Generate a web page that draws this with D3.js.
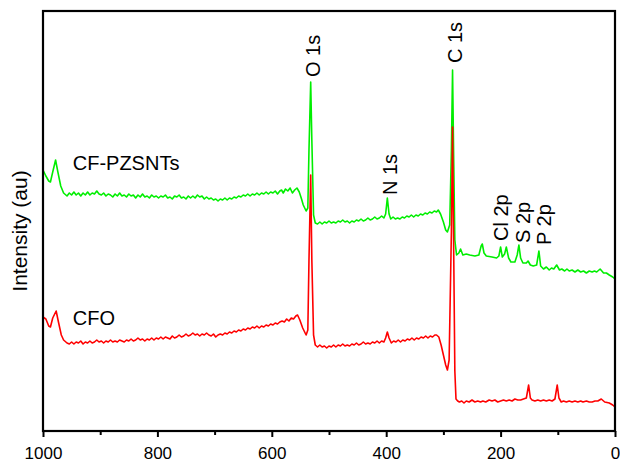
<!DOCTYPE html>
<html>
<head>
<meta charset="utf-8">
<script src="https://cdn.jsdelivr.net/npm/d3@7"></script>
<style>
  body { margin: 0; background: #fff; }
  text { font-family: Arial, "Liberation Sans", sans-serif; fill: #000; }
</style>
</head>
<body>
<div id="chart"></div>
<script>
// [binding energy (eV), intensity (a.u.)]
var spectrumCFPZSNTs = [
  [1000,261],[995,255],[990,250],[987,249],[983,259],[978,271],[974,259],[969,245],[964,238],
  [958,235],[954,238],[950,236],[946,239],[942,236],[938,238],[934,235],[930,238],[926,236],[922,239],
  [918,236],[914,238],[910,237],[906,240],[902,237],[898,236],[894,238],[890,235],[886,237],[882,236],
  [878,234],[874,237],[870,235],[866,238],[862,235],[858,236],[854,234],[850,237],[846,235],[842,236],
  [838,233],[834,236],[830,234],[826,237],[822,234],[818,235],[814,233],[810,236],[806,234],[802,235],
  [798,233],[794,235],[790,234],[786,236],[782,233],[778,234],[774,232],[770,235],[766,234],[762,236],
  [758,233],[754,234],[750,232],[746,235],[742,233],[738,235],[734,233],[730,236],[726,234],[722,235],
  [718,232],[714,234],[710,232],[706,233],[702,231],[698,232],[694,230],[690,232],[686,231],[682,233],
  [678,231],[674,233],[670,232],[666,234],[662,233],[658,235],[654,234],[650,236],[646,235],[642,237],
  [638,235],[634,237],[630,236],[626,238],[622,236],[618,238],[614,237],[610,239],[606,237],[602,239],
  [598,238],[594,240],[590,237],[586,240],[583,241],[580,238],[576,242],[572,240],[568,243],[564,238],
  [560,241],[556,243],[552,239],[548,232],[545,226],[540,220],[537,223],[535,281],[532,349],[530,291],
  [527,216],[524,208],[520,207],[516,209],[512,207],[508,209],[504,208],[500,210],[496,208],[492,209],
  [488,208],[484,210],[480,209],[476,211],[472,209],[468,210],[464,208],[460,210],[456,209],[452,211],
  [448,210],[444,212],[440,210],[436,211],[432,213],[428,211],[424,212],[420,214],[416,212],[412,213],
  [408,215],[404,213],[401,217],[398,233],[395,217],[392,212],[388,214],[384,212],[380,213],[376,212],
  [372,214],[368,213],[364,215],[360,214],[356,216],[352,214],[348,216],[344,215],[340,217],[336,216],
  [332,218],[328,217],[324,219],[320,218],[316,220],[312,219],[309,221],[305,217],[300,209],[296,201],
  [293,199],[289,206],[286,281],[284,361],[282,271],[280,191],[277,176],[273,178],[270,182],[266,176],
  [260,177],[254,176],[245,175],[238,176],[234,185],[232,187],[229,178],[225,175],[215,174],[207,173],
  [203,175],[200,184],[197,174],[193,177],[190,184],[186,173],[182,169],[175,169],[171,176],[168,186],
  [165,173],[161,168],[155,168],[152,170],[148,166],[143,165],[137,166],[133,180],[130,165],[125,162],
  [120,164],[115,161],[111,163],[107,162],[102,166],[97,161],[93,162],[88,160],[84,162],[80,160],
  [75,161],[70,159],[65,161],[60,159],[55,160],[50,158],[45,160],[40,159],[36,160],[32,159],
  [26,162],[20,158],[15,158],[10,156],[4,154],[0,152]
];

var spectrumCFO = [
  [1000,114],[995,112],[990,105],[987,104],[983,113],[977,120],[973,109],[968,96],[964,91],
  [958,88],[954,87],[950,89],[946,87],[942,89],[938,88],[934,90],[930,87],[926,89],[922,88],
  [918,90],[914,88],[910,89],[906,91],[902,89],[898,90],[894,88],[890,90],[886,89],[882,91],
  [878,89],[874,90],[870,89],[866,91],[862,90],[858,89],[854,91],[850,90],[846,92],[842,90],
  [838,91],[834,93],[830,91],[826,92],[822,90],[818,92],[814,91],[810,93],[806,91],[802,93],
  [798,92],[794,94],[790,92],[786,94],[782,93],[778,92],[774,95],[770,93],[766,94],[762,96],
  [758,94],[754,95],[750,97],[746,95],[742,96],[738,98],[734,96],[730,97],[726,95],[722,97],
  [718,96],[714,98],[710,96],[706,95],[702,97],[698,94],[694,96],[690,97],[686,96],[682,98],
  [678,97],[674,99],[670,98],[666,100],[662,99],[658,101],[654,100],[650,102],[646,101],[642,103],
  [638,102],[634,104],[630,103],[626,105],[622,103],[618,105],[614,104],[610,106],[606,105],[602,107],
  [598,106],[594,108],[590,107],[586,109],[582,110],[578,109],[574,112],[570,110],[566,113],[562,112],
  [558,115],[555,116],[551,111],[546,103],[540,96],[537,101],[535,171],[532,256],[530,171],[527,96],
  [524,86],[520,84],[516,86],[512,84],[508,85],[504,83],[500,85],[496,84],[492,86],[488,84],
  [484,86],[480,85],[476,87],[472,85],[468,86],[464,85],[460,87],[456,86],[452,88],[448,86],
  [444,87],[440,89],[436,87],[432,88],[428,87],[424,89],[420,88],[416,90],[412,88],[408,90],
  [404,89],[401,93],[398,99],[395,93],[391,88],[387,90],[383,89],[379,91],[375,89],[371,91],
  [367,90],[363,92],[359,91],[355,93],[351,91],[347,93],[343,92],[339,94],[335,93],[331,95],
  [327,93],[323,95],[319,94],[315,96],[312,96],[308,94],[304,86],[300,76],[296,66],[293,61],
  [290,71],[286,200],[284,304],[282,180],[280,60],[278,32],[275,30],[272,29],[268,30],[264,28],
  [260,30],[255,29],[250,31],[245,29],[240,30],[235,29],[231,30],[226,29],[220,31],[215,30],
  [210,31],[205,29],[200,30],[195,31],[190,30],[185,31],[180,30],[175,32],[170,31],[165,31],
  [160,32],[155,33],[151,46],[148,33],[145,31],[140,30],[135,31],[130,30],[125,31],[120,30],
  [115,31],[110,30],[105,32],[101,46],[98,33],[94,29],[90,30],[85,29],[80,30],[75,29],
  [70,30],[65,29],[60,30],[56,29],[50,30],[45,29],[40,29],[35,30],[30,30],[24,32],
  [18,29],[10,28],[4,26],[0,24]
];

var seriesNames = ['CF-PZSNTs', 'CFO'];
var seriesColors = ['#00ee00', '#ff0000'];
var seriesLabelBE = [948, 948];
var seriesLabelInt = [268, 113];

var peakNames = ['O 1s', 'C 1s', 'N 1s', 'Cl 2p', 'S 2p', 'P 2p'];
var peakBE = [528, 280, 393.5, 199.5, 161, 124.5];
var peakInt = [354, 368, 236, 190, 188, 186];

var xTicks = [1000, 800, 600, 400, 200, 0];
var xMinorTicks = [900, 700, 500, 300, 100];

var margin = { top: 11, right: 5, bottom: 32, left: 43 };
var width = 620 - margin.left - margin.right;
var height = 463 - margin.top - margin.bottom;

var svg = d3.select('#chart').append('svg')
    .attr('width', 620)
    .attr('height', 463);
var g = svg.append('g')
    .attr('transform', 'translate(' + margin.left + ',' + margin.top + ')');

// Scales (binding energy runs right to left)
var x = d3.scaleLinear().domain([1000, 0]).range([0, width]);
var y = d3.scaleLinear().domain([0, 420]).range([height, 0]);

var line = d3.line()
    .x(function(d) { return x(d[0]); })
    .y(function(d) { return y(d[1]); });

[spectrumCFPZSNTs, spectrumCFO].forEach(function(s, i) {
    g.append('path').datum(s)
        .attr('d', line)
        .attr('fill', 'none')
        .attr('stroke', seriesColors[i])
        .attr('stroke-width', 1.6)
        .attr('stroke-linejoin', 'round');
});

// Minor ticks
g.append('g')
    .attr('transform', 'translate(0,' + height + ')')
    .call(d3.axisBottom(x).tickValues(xMinorTicks).tickSize(4).tickFormat(''))
    .call(function(a) {
        a.select('.domain').remove();
        a.selectAll('line').attr('stroke-width', 2);
    });

// Major ticks + labels
g.append('g')
    .attr('transform', 'translate(0,' + height + ')')
    .call(d3.axisBottom(x).tickValues(xTicks).tickSize(6).tickPadding(10).tickFormat(d3.format('d')))
    .call(function(a) {
        a.select('.domain').remove();
        a.selectAll('line').attr('stroke-width', 2);
        a.selectAll('text')
            .style('font-size', '17px')
            .style('font-family', 'Arial, "Liberation Sans", sans-serif')
            .attr('fill', '#000');
    });

// Frame
g.append('rect')
    .attr('x', 0).attr('y', 0)
    .attr('width', width).attr('height', height)
    .attr('fill', 'none')
    .attr('stroke', '#000')
    .attr('stroke-width', 2.2);

// Series labels
g.selectAll('.series-label')
    .data(seriesNames)
    .enter().append('text')
    .attr('class', 'series-label')
    .attr('x', function(d, i) { return x(seriesLabelBE[i]); })
    .attr('y', function(d, i) { return y(seriesLabelInt[i]); })
    .attr('dy', '0.35em')
    .style('font-size', '20px')
    .text(function(d) { return d; });

// Peak labels (rotated)
g.selectAll('.peak-label')
    .data(peakNames)
    .enter().append('text')
    .attr('class', 'peak-label')
    .attr('transform', function(d, i) {
        return 'translate(' + x(peakBE[i]) + ',' + y(peakInt[i]) + ') rotate(-90)';
    })
    .attr('dy', '0.35em')
    .style('font-size', '20px')
    .text(function(d) { return d; });

// Y label
svg.append('text')
    .attr('transform', 'translate(20,231) rotate(-90)')
    .attr('dy', '0.35em')
    .style('text-anchor', 'middle')
    .style('font-size', '21px')
    .text('Intensity (au)');
</script>
</body>
</html>
